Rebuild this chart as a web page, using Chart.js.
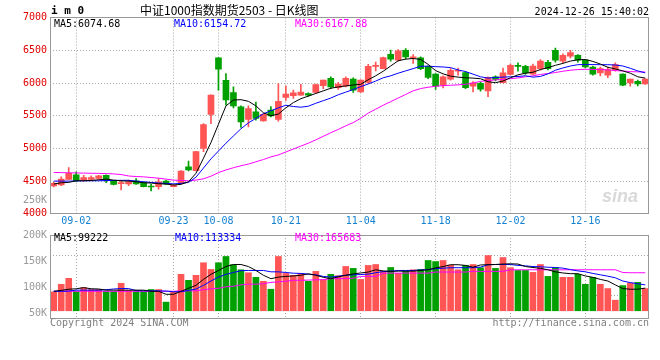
<!DOCTYPE html>
<html><head><meta charset="utf-8">
<script src="https://cdn.jsdelivr.net/npm/chart.js@4.4.1/dist/chart.umd.min.js"></script>
<style>
html,body{margin:0;padding:0;background:#fff;width:660px;height:360px;overflow:hidden;position:relative}
canvas{position:absolute;left:0}
.t{position:absolute;font-family:'DejaVu Sans Mono',monospace;font-size:10px;line-height:12px;white-space:pre}
</style></head><body>
<canvas id="c1" width="660" height="232" style="top:0px"></canvas>
<canvas id="c2" width="660" height="134" style="top:226px"></canvas>
<div class="t" style="left:51px;top:5px;font-weight:bold;font-size:11px">i m 0</div>
<div class="t" style="left:140px;top:3px;font-family:'Noto Sans CJK SC';font-size:12px;line-height:14px">中证1000指数期货2503 - 日K线图</div>
<div class="t" style="right:11px;top:6px">2024-12-26 15:40:02</div>
<div class="t" style="left:54px;top:18px;color:#000">MA5:6074.68</div>
<div class="t" style="left:174px;top:18px;color:#0000ff">MA10:6154.72</div>
<div class="t" style="left:295px;top:18px;color:#ff00ff">MA30:6167.88</div>
<div class="t" style="right:613px;top:194px;color:#999">250K</div>
<div class="t" style="left:54px;top:232px;color:#000">MA5:99222</div>
<div class="t" style="left:175px;top:232px;color:#0000ff">MA10:113334</div>
<div class="t" style="left:295px;top:232px;color:#ff00ff">MA30:165683</div>
<div class="t" style="left:50px;top:317px;color:#808080">Copyright 2024 SINA.COM</div>
<div class="t" style="right:11px;top:317px;color:#808080">http://finance.sina.com.cn</div>
<div class="t" style="left:602px;top:186px;font-family:'Liberation Sans';font-style:italic;font-weight:bold;font-size:18px;line-height:20px;color:#d9d9d9">sina</div>
<script>
const dates = ['08-28','08-29','08-30','09-02','09-03','09-04','09-05','09-06','09-09','09-10','09-11','09-12','09-13','09-18','09-19','09-20','09-23','09-24','09-25','09-26','09-27','09-30','10-08','10-09','10-10','10-11','10-14','10-15','10-16','10-17','10-18','10-21','10-22','10-23','10-24','10-25','10-28','10-29','10-30','10-31','11-01','11-04','11-05','11-06','11-07','11-08','11-11','11-12','11-13','11-14','11-15','11-18','11-19','11-20','11-21','11-22','11-25','11-26','11-27','11-28','11-29','12-02','12-03','12-04','12-05','12-06','12-09','12-10','12-11','12-12','12-13','12-16','12-17','12-18','12-19','12-20','12-23','12-24','12-25','12-26'];
const tickDates = ['09-02','09-23','10-08','10-21','11-04','11-18','12-02','12-16'];
const priceTicks = [4000,4500,5000,5500,6000,6500,7000];
const volTicks = [50000,100000,150000,200000];
const volGridValues = [68000,241000];

const open  = [4425,4440,4525,4595,4515,4525,4540,4590,4505,4462,4455,4505,4475,4418,4415,4500,4415,4470,4720,4660,5000,5520,6385,6040,5855,5635,5445,5560,5420,5585,5445,5780,5805,5815,5840,5855,5960,6070,5930,5955,6060,5865,6010,6255,6220,6440,6350,6500,6385,6385,6255,6135,5965,6060,6180,6160,5950,5995,5880,6095,6005,6130,6260,6255,6135,6220,6315,6500,6335,6410,6425,6350,6245,6155,6120,6205,6135,6000,6025,5985];
const high  = [4480,4565,4705,4640,4590,4580,4590,4595,4510,4495,4515,4540,4480,4450,4540,4510,4445,4660,4805,4955,5380,5820,6390,6145,5940,5650,5650,5710,5530,5640,5990,5955,5890,5980,5850,5985,6045,6095,6010,6095,6080,6050,6285,6320,6395,6505,6510,6525,6435,6400,6260,6145,6110,6220,6230,6180,6020,6015,6095,6110,6230,6290,6310,6270,6290,6360,6345,6535,6445,6500,6435,6355,6260,6245,6245,6310,6140,6060,6045,6065];
const low   = [4410,4430,4520,4495,4500,4505,4525,4475,4440,4365,4430,4450,4410,4348,4375,4445,4410,4460,4655,4655,4950,5380,5890,5660,5620,5320,5330,5430,5415,5480,5415,5735,5765,5810,5795,5840,5915,5915,5900,5940,5855,5855,5995,6185,6215,6335,6335,6365,6300,6205,6065,5900,5925,6045,6120,5915,5865,5875,5790,6030,6000,6125,6180,6130,6130,6195,6200,6320,6310,6385,6320,6230,6120,6110,6080,6180,5960,5950,5955,5980];
const close = [4465,4530,4620,4505,4555,4555,4580,4505,4450,4468,4490,4455,4415,4410,4490,4455,4438,4655,4670,4950,5365,5815,6210,5740,5650,5405,5610,5460,5520,5495,5720,5830,5850,5860,5815,5975,6045,5940,5985,6070,5890,6045,6255,6262,6390,6365,6490,6400,6395,6220,6085,5950,6095,6195,6188,5930,6000,5905,6085,6055,6155,6270,6255,6155,6260,6335,6220,6350,6425,6465,6350,6245,6135,6220,6205,6280,5965,6060,5985,6060];

const ma5  = [4455,4475,4480,4505,4505,4510,4520,4530,4515,4505,4500,4490,4475,4470,4460,4455,4440,4450,4490,4620,4850,5090,5370,5650,5740,5745,5720,5650,5545,5500,5525,5620,5700,5760,5800,5840,5880,5920,5940,5955,5970,5980,6050,6110,6180,6260,6340,6365,6375,6360,6285,6190,6140,6105,6090,6080,6075,6065,6020,6005,6030,6080,6125,6150,6165,6205,6235,6270,6300,6335,6355,6360,6330,6290,6240,6215,6185,6150,6095,6075];
const ma10 = [4500,4500,4500,4502,4505,4505,4505,4508,4510,4512,4512,4500,4490,4480,4470,4465,4458,4465,4480,4560,4700,4840,4960,5080,5190,5300,5390,5460,5530,5575,5620,5660,5640,5630,5645,5690,5730,5770,5820,5860,5900,5945,5985,6030,6080,6110,6150,6185,6220,6255,6258,6250,6245,6235,6200,6175,6135,6095,6075,6085,6090,6095,6100,6110,6090,6100,6140,6195,6230,6260,6280,6282,6282,6280,6280,6275,6260,6225,6185,6155];
const ma30 = [4632,4630,4627,4625,4622,4620,4618,4615,4610,4600,4578,4570,4565,4555,4545,4530,4515,4510,4505,4515,4535,4575,4630,4670,4705,4735,4760,4795,4830,4870,4900,4945,4990,5035,5080,5130,5185,5240,5290,5345,5395,5460,5540,5600,5660,5715,5770,5825,5880,5915,5935,5950,5960,5966,5972,5980,6000,6025,6035,6048,6055,6065,6078,6095,6110,6130,6145,6160,6180,6195,6205,6210,6208,6205,6200,6190,6183,6175,6170,6168];

const volume = [82300,115600,141600,84000,101300,92700,92700,84000,84000,120000,88300,84000,84000,92700,92700,37700,82300,159000,133000,154600,209600,180500,209600,237000,201000,179000,166000,146000,128600,94000,237000,163000,154600,163000,128600,172000,136000,159000,153000,193500,185000,137000,198000,202000,172000,189000,163000,172000,179000,180500,219500,215000,219500,199000,179000,198000,202000,188000,241000,185000,232500,188000,176000,176000,167600,202000,150000,188000,146000,146000,159000,115600,146000,115600,97000,46300,110000,121000,124000,97000];
const vma5  = [85000,89000,94000,96000,101000,96000,95000,90000,90000,90000,90000,90000,90000,85000,85000,72000,72000,85000,98000,111000,137000,159000,176000,193000,202000,202000,193000,176000,155000,140000,147000,150000,152000,155000,161000,155000,146000,140000,148000,155000,161000,165000,169000,179000,174000,172000,173000,173000,173000,176000,179000,187000,193000,201000,201000,198000,190000,200000,201000,202000,204000,205000,204000,193000,189000,185000,179000,170000,165000,162000,162000,152000,146000,137000,130000,113000,97000,94000,94000,99000];
const vma10 = [85000,85000,86000,90000,90000,90000,90000,92000,95000,97000,97000,88000,87000,87000,87000,86000,83000,83000,89000,95000,111000,130000,147000,159000,167000,175000,176000,176000,176000,170000,170000,167000,164000,163000,160000,157000,150000,147000,151000,155000,157000,158000,160000,166000,171000,173000,176000,176000,176000,178000,180000,184000,186000,188000,188000,188000,188000,190500,201000,202000,202000,202000,198000,196000,193000,192000,190000,189000,186000,180000,174000,170000,163000,157000,151000,144000,130000,123000,118000,113000];
const vma30 = [85000,85000,85000,85000,85000,85000,85000,85000,85000,85000,85000,85000,85000,85000,85000,85000,85000,87000,87000,87000,92000,96000,98000,105000,107000,113000,116000,116000,118000,124000,126000,129000,133000,133000,134000,135000,136000,140000,140000,141000,142000,150000,150000,150000,164000,164500,164500,164500,164500,164500,164500,169000,169000,169000,169000,169000,172000,172000,172000,172000,172000,179000,179000,179000,179000,179000,179000,179000,179000,179000,179000,179000,179000,179000,179000,179000,167000,166000,166000,166000];

const UP = '#ff5555', DOWN = '#00a000';
const candleColors = close.map((c, i) => c >= open[i] ? UP : DOWN);
const bodies = open.map((o, i) => [o, close[i]]);
const wicks = low.map((l, i) => [l, high[i]]);
const mono = {family: 'DejaVu Sans Mono', size: 10};
const GRID = '#a8a8a8';
const CLEAR = 'rgba(0,0,0,0)';
const isTickDate = i => tickDates.includes(dates[i]);

const boxPlugin = {
  id: 'box',
  afterDraw(chart) {
    const {ctx, chartArea: a} = chart;
    ctx.save();
    ctx.strokeStyle = '#999';
    ctx.lineWidth = 1;
    const l = Math.floor(a.left) + 0.5, t = Math.floor(a.top) + 0.5;
    const r = Math.floor(a.right) - 0.5, b = Math.floor(a.bottom) + 0.5;
    ctx.strokeRect(l, t, r - l, b - t);
    ctx.restore();
  }
};

const xCommon = (showLabels, h) => ({
  type: 'category',
  offset: true,
  grid: {offset: false, drawTicks: false, lineWidth: 1, color: c => isTickDate(c.index) ? GRID : CLEAR},
  border: {display: false, dash: [1, 2]},
  ticks: {display: showLabels, autoSkip: false, maxRotation: 0, minRotation: 0, padding: 2, color: '#1482d2', font: mono,
    callback: (v, i) => isTickDate(i) ? dates[i] : ''},
  afterFit: s => { s.height = h; }
});

const lineDs = (data, color, yId) => ({type: 'line', data, borderColor: color, borderWidth: 1, pointRadius: 0, tension: 0, order: 0, yAxisID: yId});

new Chart(document.getElementById('c1'), {
  data: {
    labels: dates,
    datasets: [
      lineDs(ma5, '#000000', 'y'),
      lineDs(ma10, '#0000ff', 'y'),
      lineDs(ma30, '#ff00ff', 'y'),
      {type: 'bar', data: bodies, backgroundColor: candleColors, barThickness: 6, minBarLength: 1, grouped: false, order: 1, yAxisID: 'y'},
      {type: 'bar', data: wicks, backgroundColor: candleColors, barThickness: 1, grouped: false, order: 2, yAxisID: 'y'}
    ]
  },
  options: {
    responsive: false, animation: false, devicePixelRatio: 1,
    layout: {padding: {top: 17.6, right: 11, left: 0, bottom: 0}},
    plugins: {legend: {display: false}, tooltip: {enabled: false}},
    scales: {
      x: xCommon(true, 18.2),
      y: {
        min: 4000, max: 7000,
        afterBuildTicks: s => { s.ticks = priceTicks.map(v => ({value: v})); },
        ticks: {padding: 3, color: '#e00000', font: mono, callback: v => String(v)},
        grid: {drawTicks: false, color: c => (c.tick && (c.tick.value === 4000 || c.tick.value === 7000)) ? CLEAR : GRID},
        border: {display: false, dash: [1, 2]},
        afterFit: s => { s.width = 50; }
      }
    }
  },
  plugins: [boxPlugin]
});

new Chart(document.getElementById('c2'), {
  data: {
    labels: dates,
    datasets: [
      lineDs(vma5, '#000000', 'y'),
      lineDs(vma10, '#0000ff', 'y'),
      lineDs(vma30, '#ff00ff', 'y'),
      {type: 'bar', data: volume, backgroundColor: candleColors, barThickness: 6, grouped: false, order: 1, yAxisID: 'y'}
    ]
  },
  options: {
    responsive: false, animation: false, devicePixelRatio: 1,
    layout: {padding: {top: 8.3, right: 11, left: 0, bottom: 42}},
    plugins: {legend: {display: false}, tooltip: {enabled: false}},
    scales: {
      x: xCommon(false, 0),
      y: {
        position: 'right', min: -31600, max: 330800,
        afterBuildTicks: s => { s.ticks = volGridValues.map(v => ({value: v})); },
        ticks: {display: false},
        grid: {drawTicks: false, color: GRID},
        border: {display: false, dash: [1, 2]},
        afterFit: s => { s.width = 0; }
      },
      yl: {
        position: 'left', min: 40500, max: 200000,
        afterBuildTicks: s => { s.ticks = volTicks.map(v => ({value: v})); },
        ticks: {padding: 3, color: '#999', font: mono, callback: v => (v / 1000) + 'K'},
        grid: {drawTicks: false, color: CLEAR},
        border: {display: false},
        afterFit: s => { s.width = 50; }
      }
    }
  },
  plugins: [boxPlugin]
});
</script>
</body></html>
